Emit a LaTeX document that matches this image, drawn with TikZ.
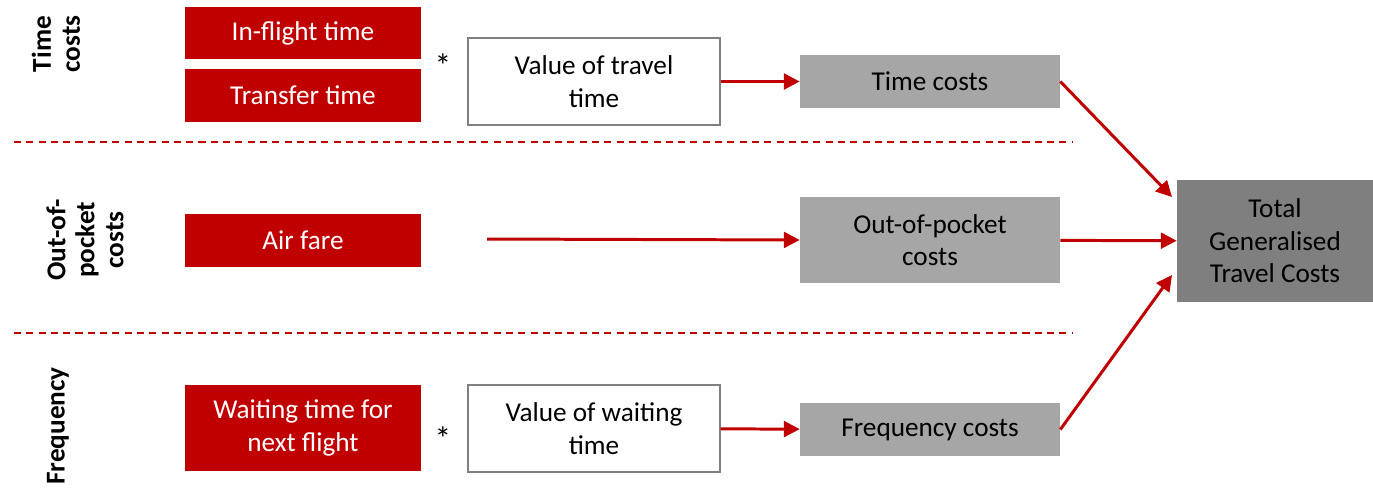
\documentclass[tikz,border=0pt]{standalone}
\usepackage{fontspec}
\setmainfont{Carlito}
\usetikzlibrary{arrows.meta}
\definecolor{darkred}{HTML}{C00000}
\definecolor{lgray}{HTML}{A6A6A6}
\definecolor{dgray}{HTML}{7F7F7F}

\begin{document}
\begin{tikzpicture}[x=0.02cm,y=-0.02cm]
\tikzstyle{every node}=[font=\fontsize{15.5}{18.5}\selectfont, align=center, inner sep=0pt]
\tikzstyle{inbox}=[rectangle, fill=darkred, text=white, minimum width=4.72cm]
\tikzstyle{valbox}=[rectangle, draw=gray, line width=0.8pt, fill=white, minimum width=5.04cm, minimum height=1.74cm]
\tikzstyle{costbox}=[rectangle, fill=lgray, minimum width=5.2cm]
\tikzstyle{flow}=[draw=darkred, line width=1.7pt, -{Triangle[length=9pt,width=9pt]}]
\tikzstyle{sep}=[draw=darkred, line width=0.8pt, dash pattern=on 4pt off 3pt]
\tikzstyle{side}=[rotate=90, font=\fontsize{15.5}{16.5}\selectfont\bfseries]
\tikzstyle{times}=[font=\fontsize{19}{20}\selectfont]
\useasboundingbox (0,0) rectangle (1373,488);
% side labels
\draw (56,44) node (l1) [side] {Time\\costs};
\draw (85,240) node (l2) [side] {Out-of-\\pocket\\costs};
\draw (58,426) node (l3) [side] {Frequency};
% separators
\draw[sep] (14,142) -- (1073,142);
\draw[sep] (14,333) -- (1073,333);
% inputs
\draw (303,33) node (fl) [inbox, minimum height=1.04cm] {In-flight time};
\draw (303,95.5) node (tr) [inbox, minimum height=1.06cm] {Transfer time};
\draw (303,240.5) node (af) [inbox, minimum height=1.06cm] {Air fare};
\draw (303,428) node (wt) [inbox, minimum height=1.72cm] {Waiting time for\\next flight};
\draw (443,66) node (m1) [times] {*};
\draw (443,439) node (m2) [times] {*};
\draw (594,81.5) node (vt) [valbox] {Value of travel\\time};
\draw (594,428.5) node (vw) [valbox] {Value of waiting\\time};
% costs
\draw (930,81.5) node (tc) [costbox, minimum height=1.06cm] {Time costs};
\draw (930,240) node (oc) [costbox, minimum height=1.72cm] {Out-of-pocket\\costs};
\draw (930,429.5) node (fc) [costbox, minimum height=1.06cm] {Frequency costs};
\draw (1275,241) node (tot) [rectangle, fill=dgray, minimum width=3.92cm, minimum height=2.44cm] {Total\\Generalised\\Travel Costs};
\coordinate (as) at (487,239);
% arrows
\draw[flow] (vt) -- (tc);
\draw[flow] (vw) -- (fc);
\draw[flow] (as) -- (oc.west);
\draw[flow] (tc.east) -- (1172,197);
\draw[flow] (oc) -- (tot);
\draw[flow] (fc.east) -- (1172,275);
\end{tikzpicture}
\end{document}
